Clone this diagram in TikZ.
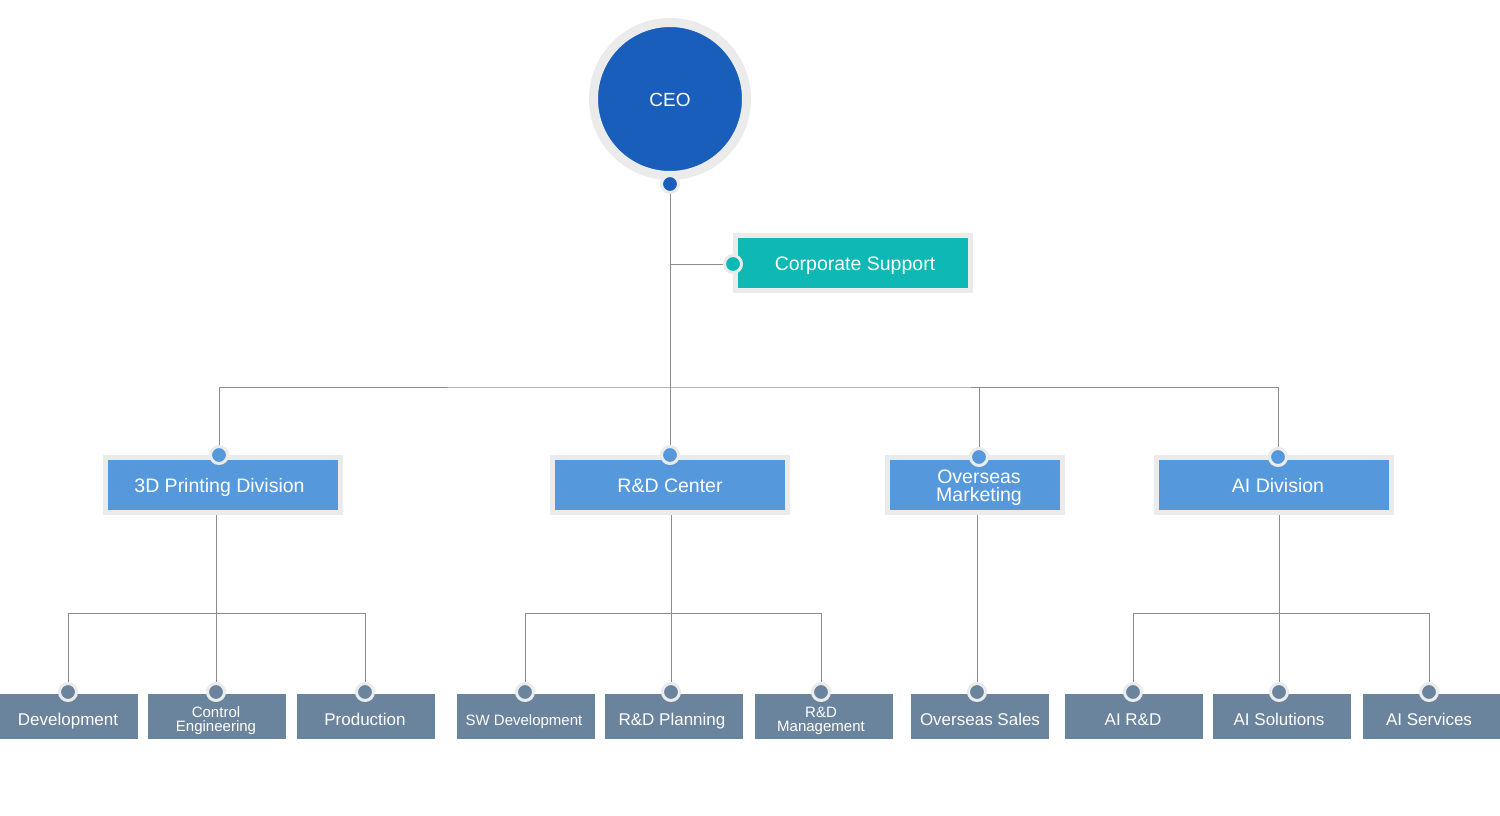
\documentclass[tikz,border=0pt]{standalone}
\usepackage{fontspec}
\setmainfont{Liberation Sans}
\definecolor{ceoblue}{HTML}{1A5EBC}
\definecolor{tealc}{HTML}{0DB8B5}
\definecolor{midblue}{HTML}{5599DC}
\definecolor{slate}{HTML}{6A849D}
\definecolor{ringgray}{HTML}{EBEBEB}
\definecolor{linegray}{HTML}{8C8C8C}
\newcommand{\sh}[1]{\hspace*{#1}}
\tikzset{
  conn/.style={draw=linegray, line width=1pt},
  ceobox/.style={circle, fill=ceoblue, draw=ringgray, line width=9pt, minimum size=153pt, inner sep=0pt, text=white, font=\fontsize{19}{21}\selectfont, text height=14.5pt, text depth=0pt},
  divbox/.style={rectangle, fill=midblue, draw=ringgray, line width=5pt, minimum width=235pt, minimum height=55pt, inner sep=0pt, text=white, align=center, font=\fontsize{19.5}{18}\selectfont},
  oneline/.style={text height=19pt, text depth=4pt},
  csbox/.style={divbox, fill=tealc},
  leafbox/.style={rectangle, fill=slate, minimum width=138pt, minimum height=45pt, inner sep=0pt, text=white, align=center, font=\fontsize{17}{19}\selectfont},
  leafone/.style={text height=21pt, text depth=4pt},
  dot/.style={circle, draw=ringgray, line width=3pt, minimum size=17pt, inner sep=0pt, fill=#1},
}
\begin{document}
\begin{tikzpicture}[x=1pt,y=-1pt]
\useasboundingbox (0,0) rectangle (1500,815);
\fill[white] (0,0) rectangle (1500,815);

% CEO
\node[ceobox] (ceo) at (670,99) {CEO};
\node[dot=ceoblue] (ceodot) at (670,184) {};

% Corporate support
\node[csbox, oneline] (cs) at (852.5,263) {\sh{5pt}Corporate Support};
\node[dot=tealc] (csdot) at (733,264) {};

% Divisions
\node[divbox, oneline] (d1) at (223,485) {\sh{-7pt}3D Printing Division};
\node[divbox, oneline] (d2) at (670,485) {R\&D Center};
\node[divbox, minimum width=175pt] (d3) at (975,485) {\sh{8pt}\rule{0pt}{20pt}Overseas\\\sh{8pt}Marketing};
\node[divbox, oneline] (d4) at (1274,485) {\sh{8pt}AI Division};
\node[dot=midblue] (d1dot) at (219,455) {};
\node[dot=midblue] (d2dot) at (670,455) {};
\node[dot=midblue] (d3dot) at (979,457) {};
\node[dot=midblue] (d4dot) at (1278,457) {};

% Leaves
\node[leafbox, leafone] (l1) at (69,716.5) {\sh{-2pt}Development};
\node[leafbox, font=\fontsize{15}{14}\selectfont] (l2) at (217,716.5) {\sh{-2pt}\rule{0pt}{19pt}Control\\\sh{-2pt}Engineering};
\node[leafbox, leafone] (l3) at (366,716.5) {\sh{-2pt}Production};
\node[leafbox, leafone, font=\fontsize{15}{17}\selectfont] (l4) at (526,716.5) {\sh{-4pt}SW Development};
\node[leafbox, leafone] (l5) at (674,716.5) {\sh{-4pt}R\&D Planning};
\node[leafbox, font=\fontsize{15}{14}\selectfont] (l6) at (824,716.5) {\sh{-6pt}\rule{0pt}{19pt}R\&D\\\sh{-6pt}Management};
\node[leafbox, leafone] (l7) at (980,716.5) {Overseas Sales};
\node[leafbox, leafone] (l8) at (1134,716.5) {\sh{-2pt}AI R\&D};
\node[leafbox, leafone] (l9) at (1282,716.5) {\sh{-6pt}AI Solutions};
\node[leafbox, leafone] (l10) at (1431.5,716.5) {\sh{-5pt}AI Services};

\node[dot=slate] (l1dot) at (68,692) {};
\node[dot=slate] (l2dot) at (216,692) {};
\node[dot=slate] (l3dot) at (365,692) {};
\node[dot=slate] (l4dot) at (525,692) {};
\node[dot=slate] (l5dot) at (671,692) {};
\node[dot=slate] (l6dot) at (821,692) {};
\node[dot=slate] (l7dot) at (977,692) {};
\node[dot=slate] (l8dot) at (1133,692) {};
\node[dot=slate] (l9dot) at (1279,692) {};
\node[dot=slate] (l10dot) at (1429,692) {};

% junctions
\coordinate (j0) at (670,387);
\coordinate (jc) at (670,264);
\coordinate (h1) at (216,613);
\coordinate (h2) at (671,613);
\coordinate (h4) at (1279,613);

% connectors
\draw[conn] (ceodot.south) -- (j0);
\draw[conn] (jc) -- (csdot.west);
\draw[conn] (d1dot.north) |- (j0) -| (d4dot.north);
\draw[conn] (j0) -- (d2dot.north);
\draw[conn] (d3dot.north) -- (d3dot.north |- j0);

\draw[conn] (d1.south -| h1) -- (l2dot.north);
\draw[conn] (l1dot.north) |- (h1) -| (l3dot.north);
\draw[conn] (d2.south -| h2) -- (l5dot.north);
\draw[conn] (l4dot.north) |- (h2) -| (l6dot.north);
\draw[conn] (d3.south -| l7dot) -- (l7dot.north);
\draw[conn] (d4.south -| h4) -- (l9dot.north);
\draw[conn] (l8dot.north) |- (h4) -| (l10dot.north);
\end{tikzpicture}
\end{document}
